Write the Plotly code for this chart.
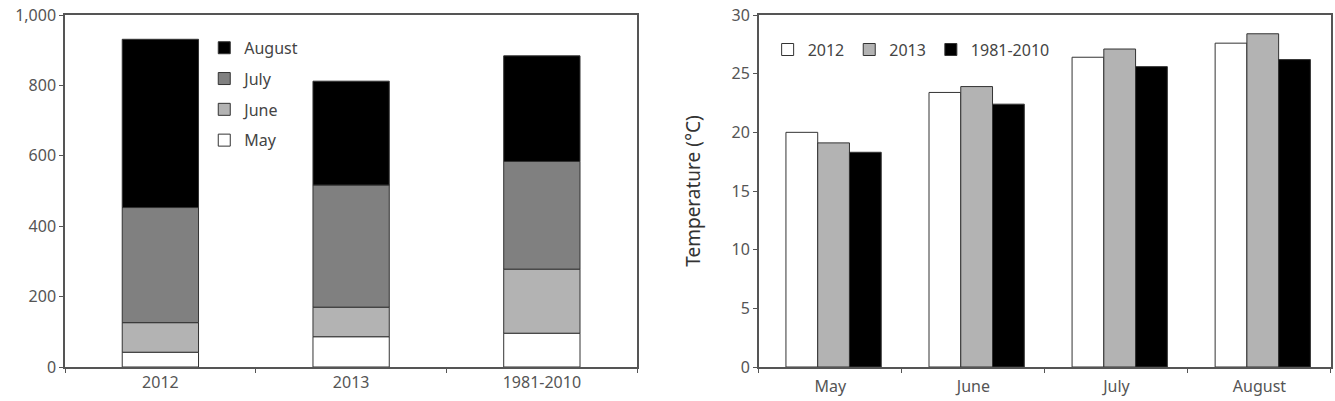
import plotly.graph_objects as go

# Left chart: stacked (monthly values per period)
periods = ["2012", "2013", "1981-2010"]
may_vals = [42, 86, 96]
june_vals = [84, 84, 182]
july_vals = [327, 347, 306]
august_vals = [478, 295, 300]

# Right chart: temperature
months = ["May", "June", "July", "August"]
t2012 = [20.0, 23.4, 26.4, 27.6]
t2013 = [19.1, 23.9, 27.1, 28.4]
tnorm = [18.3, 22.4, 25.6, 26.2]

FONT = "Noto Sans"
TXT = "#555555"
EDGE = "#333333"

fig = go.Figure()

stack = [("May", may_vals, "#ffffff", 4), ("June", june_vals, "#b3b3b3", 3),
         ("July", july_vals, "#808080", 2), ("August", august_vals, "#000000", 1)]
for name, vals, col, rank in stack:
    fig.add_trace(go.Bar(x=periods, y=vals, name=name, marker_color=col,
                         marker_line=dict(color=EDGE, width=1), width=0.4,
                         xaxis="x", yaxis="y", legend="legend", legendgroup=name,
                         legendrank=rank))

right = [("2012", t2012, "#ffffff"), ("2013", t2013, "#b3b3b3"), ("1981-2010", tnorm, "#000000")]
for i, (name, vals, col) in enumerate(right):
    fig.add_trace(go.Bar(x=months, y=vals, name=name, marker_color=col,
                         marker_line=dict(color=EDGE, width=1), offsetgroup=name,
                         width=0.222, offset=-0.31 + i * 0.222,
                         xaxis="x2", yaxis="y2", legend="legend2"))

axis_common = dict(showline=True, linecolor="#555555", linewidth=1.5, mirror=True,
                   showgrid=False, zeroline=False, ticks="outside", ticklen=4,
                   tickcolor="#555555", tickfont=dict(family=FONT, size=16, color=TXT))

fig.update_layout(
    width=1335, height=401,
    margin=dict(l=65, r=2, t=15, b=34),
    paper_bgcolor="white", plot_bgcolor="white",
    font=dict(family=FONT, color=TXT, size=16),
    barmode="relative",
    xaxis=dict(domain=[0, 0.452], tickson="boundaries", anchor="y", **axis_common),
    yaxis=dict(range=[0, 1000], dtick=200, tickformat=",", anchor="x", **axis_common),
    xaxis2=dict(domain=[0.548, 1], tickson="boundaries", anchor="y2", ticklabelstandoff=4, **axis_common),
    yaxis2=dict(range=[0, 30], dtick=5, anchor="x2",
                title=dict(text="Temperature (°C)", font=dict(family=FONT, size=19, color="#333333"), standoff=26),
                **axis_common),
    legend=dict(x=0.11, y=0.955, xanchor="left", yanchor="top", orientation="v",
                traceorder="grouped", tracegroupgap=7,
                font=dict(family=FONT, size=16, color="#444444"), bgcolor="rgba(0,0,0,0)",
                itemwidth=30),
    legend2=dict(x=0.555, y=0.95, xanchor="left", yanchor="top", orientation="h",
                 font=dict(family=FONT, size=16, color="#444444"), bgcolor="rgba(0,0,0,0)",
                 itemwidth=30),
)

fig.write_html("out.html")
